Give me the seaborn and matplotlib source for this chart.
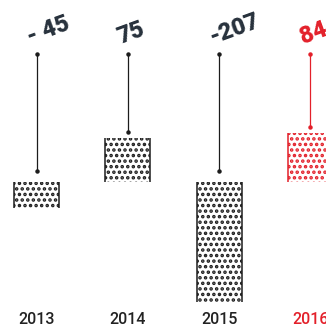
import numpy as np
import pandas as pd
import matplotlib
matplotlib.use("Agg")
import matplotlib.pyplot as plt
import seaborn as sns

# ---- data ----
years = ["2013", "2014", "2015", "2016"]
values = [-45, 75, -207, 84]
value_labels = ["- 45", "75", "-207", "84"]
bar_colors = ["#1c1c1c", "#1c1c1c", "#1c1c1c", "#e3202a"]
label_colors = ["#27313c", "#27313c", "#27313c", "#e3202a"]
year_colors = ["#222222", "#222222", "#222222", "#e3202a"]

sns.set_style("white")
plt.rcParams["hatch.linewidth"] = 1.7

df = pd.DataFrame({"year": years, "value": values})

W, H = 326, 327
fig = plt.figure(figsize=(W / 100, H / 100), dpi=100)
axes_bottom_px = 305
ax = fig.add_axes([0, (H - axes_bottom_px) / H, 1, axes_bottom_px / H])

sns.barplot(data=df, x="year", y="value", hue="year", palette=bar_colors,
            legend=False, width=0.493, ax=ax, hatch="...", saturation=1)

# scale: px per unit
s = 0.58
baseline_px = 181.5
ax.set_ylim(-(axes_bottom_px - baseline_px) / s, baseline_px / s)
ax.set_xlim(-0.40, 3.171)

for p, c in zip(ax.patches, bar_colors):
    p.set_facecolor("white")
    p.set_edgecolor(c)
    p.set_linewidth(0)
    x0, x1 = p.get_x(), p.get_x() + p.get_width()
    y0, y1 = p.get_y(), p.get_y() + p.get_height()
    ax.vlines([x0, x1], y0, y1, colors=c, linewidth=1.1, clip_on=True)

# stems + labels
stem_top = 127.5 / s
for i, (v, lab, c, lc) in enumerate(zip(values, value_labels, bar_colors, label_colors)):
    gap = (6 if v > 0 else 10.5) / s
    end = max(v, 0) + gap
    ax.plot([i, i], [stem_top, end], color=c, linewidth=0.9,
            marker="o", markersize=2.2, clip_on=False)
    ax.annotate(lab, xy=(i, stem_top), xytext=(-5, 7), textcoords="offset points",
                rotation=20, rotation_mode="anchor", ha="left", va="baseline",
                fontsize=17, fontweight="black", color=lc,
                family=["Roboto", "DejaVu Sans"])

ax.set_xlabel("")
ax.set_ylabel("")
ax.set_yticks([])
ax.tick_params(axis="x", length=0, pad=5)
ax.set_xticks(range(len(years)))
ax.set_xticklabels(years, fontsize=11.5, fontweight="medium",
                   fontfamily=["Roboto", "DejaVu Sans"])
for t, c in zip(ax.get_xticklabels(), year_colors):
    t.set_color(c)
sns.despine(ax=ax, left=True, bottom=True)

fig.savefig("out.png", dpi=100)
